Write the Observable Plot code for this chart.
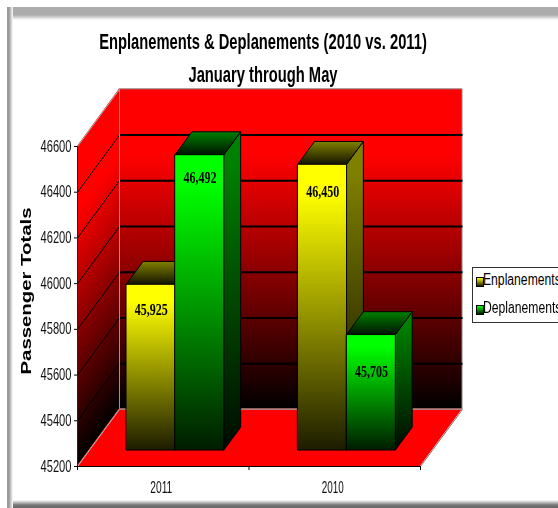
<!DOCTYPE html>
<html>
<head>
<meta charset="utf-8">
<script src="https://cdn.jsdelivr.net/npm/d3@7"></script>
<script src="https://cdn.jsdelivr.net/npm/@observablehq/plot@0.6"></script>
<style>
html,body{margin:0;padding:0;background:#fff}
#page{position:relative;width:558px;height:508px;overflow:hidden;background:#fff;font-family:"Liberation Sans",sans-serif}
#frame{position:absolute;left:7px;top:7px;right:0;bottom:0;background:
 linear-gradient(to right,#9a9a9a 0,#9a9a9a 2px,#fff 6px) left/6px 100% no-repeat,
 linear-gradient(to top,#666 0,#777 3px,#fff 8px) bottom/100% 8px no-repeat,
 linear-gradient(to bottom,#acacac 0,#acacac 8px,#fff 13px) top/100% 14px no-repeat,#fff}
#chart{position:absolute;left:0;top:0;filter:blur(.35px)}
h1{position:absolute;left:0;width:526px;margin:0;text-align:center;font-size:22px;font-weight:700;line-height:24px;color:#000;transform:scaleX(.67);white-space:nowrap;filter:blur(.4px)}
#t1{top:30px}#t2{top:63px}
#legend{position:absolute;left:472px;top:267px;width:90px;height:56px;box-sizing:border-box;border:1px solid #333;background:#fff;filter:blur(.35px)}
#legend span{position:absolute;left:10px;font-size:16px;line-height:18px;white-space:nowrap;color:#000;transform:scaleX(.76);transform-origin:0 50%}
#legend i{position:absolute;left:3px;width:6px;height:8px;border:1px solid #000}
</style>
</head>
<body>
<div id="page">
<div id="frame"></div>
<div id="chart"></div>
<h1 id="t1">Enplanements &amp; Deplanements (2010 vs. 2011)</h1>
<h1 id="t2">January through May</h1>
<div id="legend"></div>
</div>
<script>
const categories = ["2011", "2010"];
const seriesNames = ["Enplanements", "Deplanements"];
const enplanements = [45925, 46450];
const deplanements = [46492, 45705];
const yTicks = [45200, 45400, 45600, 45800, 46000, 46200, 46400, 46600];

const yMin = yTicks[0], yMax = yTicks[yTicks.length - 1];
// oblique 3D projection expressed in data units
const DX = 0.245, DV = 250;
const px = (x, d) => x + d * DX;
const pv = (v, d) => v + d * DV;
const dFront = 0.28, dBack = 0.68;
const groupStart = 0.2187, barW = 0.2845;

const stops = (bright, dim) => `
  <stop offset="0" stop-color="${bright}"/><stop offset="0.1" stop-color="${bright}"/>
  <stop offset="1" stop-color="${dim}"/>`;
const defs = () => {
  const s = d3.create("svg:defs");
  s.html(`
  <linearGradient id="wallBack" x1="0" y1="0" x2="0" y2="1">
    <stop offset="0" stop-color="#f00"/><stop offset="0.206" stop-color="#f00"/><stop offset="1" stop-color="#000"/>
  </linearGradient>
  <linearGradient id="wallLeft" x1="0" y1="0.151" x2="0.125" y2="0.981">
    <stop offset="0" stop-color="#f00"/><stop offset="0.206" stop-color="#f00"/><stop offset="1" stop-color="#000"/>
  </linearGradient>
  <linearGradient id="fE" x1="0" y1="0" x2="0" y2="1">${stops("#ffff00", "#1c1c00")}</linearGradient>
  <linearGradient id="sE" x1="0" y1="0" x2="0" y2="1">${stops("#808000", "#0a0a00")}</linearGradient>
  <linearGradient id="tE" x1="0" y1="0" x2="0" y2="1"><stop offset="0" stop-color="#808000"/><stop offset="1" stop-color="#141400"/></linearGradient>
  <linearGradient id="fD" x1="0" y1="0" x2="0" y2="1">${stops("#00ff00", "#001c00")}</linearGradient>
  <linearGradient id="sD" x1="0" y1="0" x2="0" y2="1">${stops("#008000", "#000a00")}</linearGradient>
  <linearGradient id="tD" x1="0" y1="0" x2="0" y2="1"><stop offset="0" stop-color="#008000"/><stop offset="1" stop-color="#001400"/></linearGradient>`);
  return s.node();
};

const bars = categories.flatMap((c, i) => [
  {c, s: "E", v: enplanements[i], x0: i + groupStart},
  {c, s: "D", v: deplanements[i], x0: i + groupStart + barW}
]);
const edge = {stroke: "#000", strokeWidth: 1};
const barMarks = bars.flatMap(b => {
  const x1 = b.x0 + barW;
  return [
    Plot.areaY([dFront, dBack], {x: d => px(x1, d), y1: d => pv(yMin, d), y2: d => pv(b.v, d), fill: `url(#s${b.s})`, ...edge}),
    Plot.areaX([dFront, dBack], {y: d => pv(b.v, d), x1: d => px(b.x0, d), x2: d => px(x1, d), fill: `url(#t${b.s})`, ...edge}),
    Plot.areaY([b.x0, x1], {x: x => px(x, dFront), y1: () => pv(yMin, dFront), y2: () => pv(b.v, dFront), fill: `url(#f${b.s})`, ...edge})
  ];
});
const labelDy = {"45925": 25, "46492": 23, "46450": 27, "45705": 37};
const labelMarks = bars.map(b => Plot.text([b], {
  x: d => px(d.x0 + barW / 2, dFront), y: d => pv(d.v, dFront),
  text: d => d3.format(",")(d.v), dy: labelDy[b.v],
  fontFamily: '"Liberation Serif",serif', fontWeight: 700, fontSize: 16, fill: "#000"
}));

const plot = Plot.plot({
  width: 558, height: 508,
  marginLeft: 77, marginRight: 138, marginTop: 146, marginBottom: 42,
  x: {domain: [0, categories.length], axis: null},
  y: {domain: [yMin, yMax], axis: null},
  style: {background: "transparent", overflow: "visible"},
  marks: [
    defs,
    Plot.areaY([0, 2], {x: x => px(x, 1), y1: () => pv(yMin, 1), y2: () => pv(yMax, 1), fill: "url(#wallBack)", stroke: "#8c8c8c"}),
    Plot.link(yTicks.slice(1, -1), {x1: () => px(0, 1), x2: () => px(2, 1), y1: v => pv(v, 1), y2: v => pv(v, 1), stroke: "#000", strokeWidth: 2}),
    Plot.areaY([0, 1], {x: d => px(0, d), y1: d => pv(yMin, d), y2: d => pv(yMax, d), fill: "url(#wallLeft)"}),
    Plot.link(yTicks.slice(1, -1), {x1: () => px(0, 0), x2: () => px(0, 1), y1: v => v, y2: v => pv(v, 1), stroke: "#000", strokeWidth: 1}),
    Plot.link([0], {x1: () => px(0, 0), x2: () => px(0, 1), y1: () => yMax, y2: () => pv(yMax, 1), stroke: "#aaa"}),
    Plot.link([0], {x1: () => px(0, 1), x2: () => px(0, 1), y1: () => pv(yMin, 1), y2: () => pv(yMax, 1), stroke: "#999"}),
    Plot.areaX([0, 1], {y: d => pv(yMin, d), x1: d => px(0, d), x2: d => px(2, d), fill: "#f00"}),
    Plot.link([0], {x1: () => px(0, 0), x2: () => px(0, 1), y1: () => yMin, y2: () => pv(yMin, 1), stroke: "#bbb"}),
    Plot.link([0], {x1: () => px(2, 0), x2: () => px(2, 1), y1: () => yMin, y2: () => pv(yMin, 1), stroke: "#777"}),
    Plot.link([0], {x1: () => px(0, 1), x2: () => px(2, 1), y1: () => pv(yMin, 1), y2: () => pv(yMin, 1), stroke: "#999"}),
    ...barMarks,
    ...labelMarks,
    Plot.ruleX([0], {y1: yMin, y2: yMax, stroke: "#222"}),
    Plot.ruleY([yMin], {x1: 0, x2: 2, stroke: "#000", strokeWidth: 1.2}),
    Plot.axisY({ticks: yTicks, tickSize: 3, tickPadding: 3, tickFormat: d3.format("d"), label: null,
      fontFamily: '"Liberation Sans",sans-serif', fontSize: 16, fill: "#111"}),
    Plot.axisX({ticks: [0, 1, 2], tickSize: 4, tickFormat: () => "", label: null}),
    Plot.axisX({ticks: categories.map((c, i) => i + 0.5), tickSize: 0, tickPadding: 15, dx: -2, label: null,
      tickFormat: x => categories[Math.floor(x)],
      fontFamily: '"Liberation Sans",sans-serif', fontSize: 16, fill: "#111"}),
    Plot.text(["Passenger Totals"], {frameAnchor: "left", text: d => d, rotate: -90, dx: -51, dy: 68,
      fontFamily: '"Liberation Sans",sans-serif', fontWeight: 700, fontSize: 15, fill: "#000"})
  ]
});
// the source's lettering is horizontally condensed: fit each text to its measured length
const fit = (t, len) => { t.setAttribute("textLength", len); t.setAttribute("lengthAdjust", "spacingAndGlyphs"); };
plot.querySelectorAll("text").forEach(t => {
  const s = t.textContent;
  if (s === "Passenger Totals") fit(t, 167);
  else if (/^\d{5}$/.test(s)) fit(t, 31);
  else if (/^\d{4}$/.test(s)) fit(t, 22);
  else if (/^\d\d,\d{3}$/.test(s)) fit(t, 33);
});
document.getElementById("chart").appendChild(plot);

const legendColors = [["#ffff00", "#1c1c00"], ["#00ff00", "#001c00"]];
const legend = document.getElementById("legend");
seriesNames.forEach((name, i) => {
  const top = i === 0 ? 3 : 31;
  const row = document.createElement("span");
  row.style.top = top + "px";
  row.textContent = name;
  const sw = document.createElement("i");
  sw.style.top = (top + 6) + "px";
  sw.style.background = `linear-gradient(${legendColors[i][0]},${legendColors[i][1]})`;
  legend.append(sw, row);
});
</script>
</body>
</html>
